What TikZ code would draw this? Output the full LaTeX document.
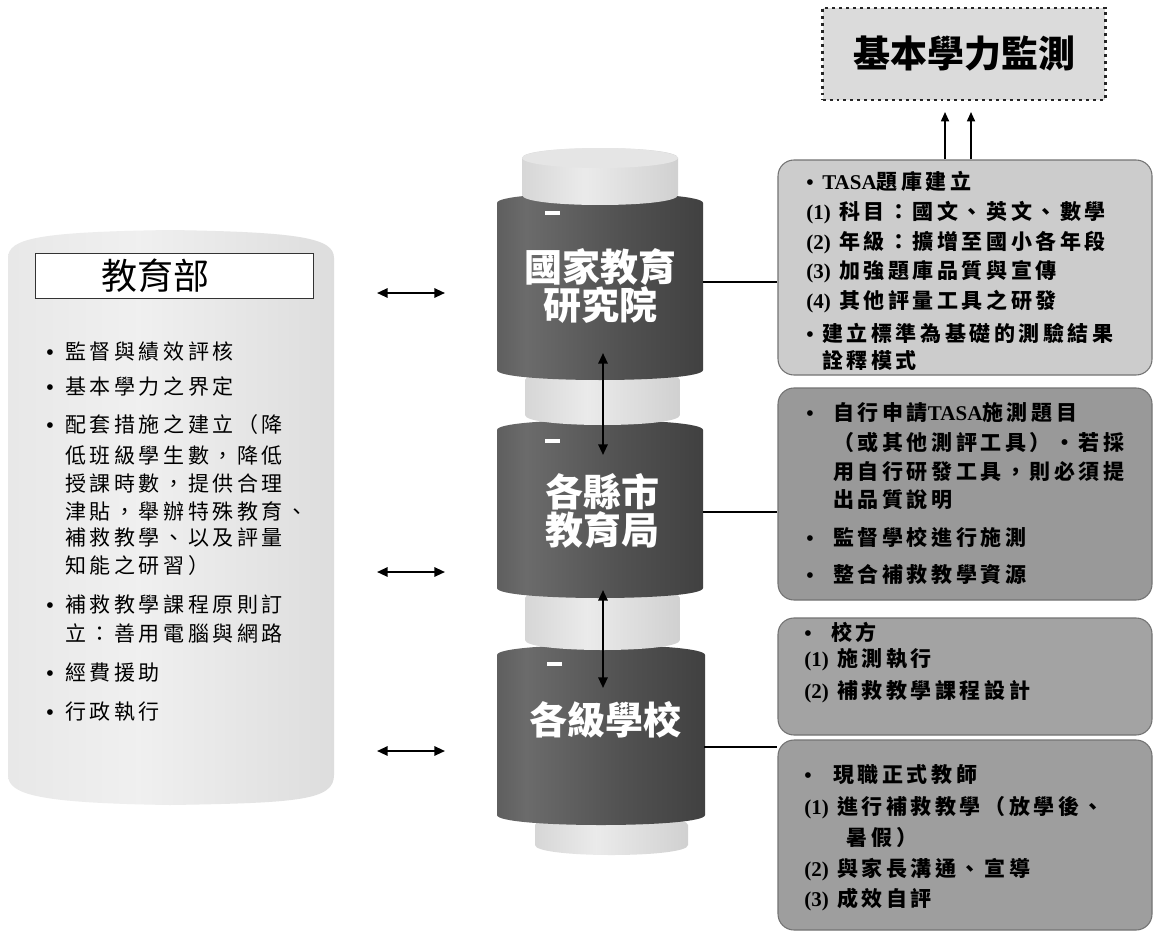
\documentclass[tikz,border=0pt]{standalone}
\usepackage{fontspec}
\setmainfont{Noto Sans CJK TC}
\newfontfamily\bodyf{Noto Sans CJK TC}[LetterSpace=17]
\newfontfamily\latn{Liberation Serif}
\usetikzlibrary{arrows.meta}

\pgfdeclarehorizontalshading{darkcyl}{100bp}{color(0bp)=(black!85); color(15bp)=(black!70); color(32bp)=(black!58); color(55bp)=(black!68); color(85bp)=(black!78); color(100bp)=(black!88)}
\pgfdeclarehorizontalshading{lightcyl}{100bp}{color(0bp)=(black!42); color(25bp)=(black!16); color(45bp)=(black!8); color(80bp)=(black!20); color(100bp)=(black!45)}
\pgfdeclarehorizontalshading{leftcyl}{100bp}{color(0bp)=(black!25); color(6bp)=(black!12); color(45bp)=(black!6); color(78bp)=(black!14); color(93bp)=(black!32); color(100bp)=(black!58)}

\newcommand{\mycyl}[6]{%
  \shade[shading=#6] (#1,#3) -- (#1,#4) .. controls (#1,{#4+1.333*#5}) and (#2,{#4+1.333*#5}) .. (#2,#4) -- (#2,#3) .. controls (#2,{#3-1.333*#5}) and (#1,{#3-1.333*#5}) .. (#1,#3) -- cycle;}
\newcommand{\bul}[1]{\makebox[#1][l]{{\latn\bfseries •}}}

\begin{document}
\begin{tikzpicture}[x=0.75pt,y=-0.75pt,
  bodyL/.style={anchor=west, inner sep=0, font=\bodyf\fontsize{15.75pt}{18pt}\selectfont},
  bodyR/.style={anchor=west, inner sep=0, font=\bodyf\bfseries\fontsize{15.75pt}{18pt}\selectfont},
  cyltext/.style={text=white, align=center, inner sep=0, font=\bfseries\fontsize{28.5pt}{28pt}\selectfont},
  conn/.style={line width=1.1pt},
  dbl/.style={{Triangle[length=8pt,width=7pt]}-{Triangle[length=8pt,width=7pt]}, line width=1.5pt},
  uparr/.style={-{Triangle[length=7pt,width=6pt]}, line width=1.2pt},
  rbox/.style={rounded corners=12pt, draw=black!55, line width=0.8pt, minimum width=280.5pt, inner sep=0},
  body/.style={inner sep=0, minimum width=154.5pt}
]
\fill[white] (0,0) rectangle (1155,931);
\useasboundingbox (0,0) rectangle (1155,931);

% ---------- left cylinder (教育部) ----------
\shade[shading=leftcyl] (8,258) .. controls (8,238) and (40,232) .. (170,230) .. controls (300,232) and (334,238) .. (334,258) -- (334,775) .. controls (334,800) and (300,803) .. (170,805) .. controls (40,803) and (8,795) .. (8,775) -- cycle;
\node[draw=black!80, line width=0.6pt, fill=white, minimum width=208.5pt, minimum height=33.75pt, inner sep=0] (moe) at (174,275.5) {};
\node[inner sep=0, font=\fontsize{27pt}{30pt}\selectfont] (moet) at (155,276) {教育部};

\foreach \yy/\txt [count=\i] in {
  352/{\bul{14.25pt}監督與績效評核},
  387/{\bul{14.25pt}基本學力之界定},
  425/{\bul{14.25pt}配套措施之建立（降},
  455/{\hspace*{14.25pt}低班級學生數，降低},
  483/{\hspace*{14.25pt}授課時數，提供合理},
  511/{\hspace*{14.25pt}津貼，舉辦特殊教育、},
  538/{\hspace*{14.25pt}補救教學、以及評量},
  566/{\hspace*{14.25pt}知能之研習）},
  605/{\bul{14.25pt}補救教學課程原則訂},
  633/{\hspace*{14.25pt}立：善用電腦與網路},
  673/{\bul{14.25pt}經費援助},
  712/{\bul{14.25pt}行政執行}}
  {\node[bodyL] (L\i) at (46,\yy) {\txt};}

% ---------- central cylinder stack ----------
\mycyl{535}{688}{825}{845}{10}{lightcyl}
\mycyl{497}{705}{655}{815}{10}{darkcyl}
\mycyl{525}{680}{598}{640}{10}{lightcyl}
\mycyl{497}{703}{430}{588}{10}{darkcyl}
\mycyl{525}{680}{380}{415}{10}{lightcyl}
\mycyl{497}{703}{203}{370}{10}{darkcyl}
\mycyl{522}{678}{158}{195}{10}{lightcyl}
\fill[black!10] (600,158) ellipse [x radius=78, y radius=10];
\draw[white, line width=2.5pt] (545,213) -- (560,213);
\draw[white, line width=2.5pt] (545,441) -- (560,441);
\draw[white, line width=2.5pt] (547,664) -- (562,664);

\node[body, minimum height=135pt] (c1) at (600,282) {};
\node[body, minimum height=120pt] (c2) at (600,512) {};
\node[body, minimum height=120pt] (c3) at (601,747) {};

\node[cyltext] (n1) at (600,286) {國家教育\\研究院};
\node[cyltext] (n2) at (602,511) {各縣市\\教育局};
\node[cyltext] (n3) at (605,720) {各級學校};

% vertical double arrows
\coordinate (v1a) at (603,353); \coordinate (v1b) at (603,455);
\coordinate (v2a) at (603,590); \coordinate (v2b) at (603,688);
\draw[dbl] (v1a) -- (v1b);
\draw[dbl] (v2a) -- (v2b);

% left horizontal double arrows
\coordinate (h1a) at (377,293); \coordinate (h1b) at (445,293);
\coordinate (h2a) at (377,572); \coordinate (h2b) at (445,572);
\coordinate (h3a) at (377,751); \coordinate (h3b) at (445,751);
\draw[dbl] (h1a) -- (h1b);
\draw[dbl] (h2a) -- (h2b);
\draw[dbl] (h3a) -- (h3b);

% ---------- right boxes ----------
\node[rbox, fill=black!20, minimum height=161.25pt] (b1) at (965,267.5) {};
\node[rbox, fill=black!40, minimum height=159pt] (b2) at (965,494) {};
\node[rbox, fill=black!36, minimum height=87.75pt] (b3) at (965,676.5) {};
\node[rbox, fill=black!38, minimum height=142.5pt] (b4) at (965,835) {};

\draw[conn] (c1.east) -- (c1.east -| b1.west);
\draw[conn] (c2.east) -- (c2.east -| b2.west);
\draw[conn] (c3.east) -- (c3.east -| b4.west);

\foreach \yy/\txt [count=\i] in {
  181/{\bul{12pt}{\latn TASA}題庫建立},
  213/{{\latn (1)} 科目：國文、英文、數學},
  243/{{\latn (2)} 年級：擴增至國小各年段},
  272/{{\latn (3)} 加強題庫品質與宣傳},
  302/{{\latn (4)} 其他評量工具之研發},
  333/{\bul{12pt}建立標準為基礎的測驗結果},
  360/{\hspace*{12pt}詮釋模式}}
  {\node[bodyR] (A\i) at (806,\yy) {\txt};}

\foreach \yy/\txt [count=\i] in {
  413/{\bul{20.25pt}自行申請{\latn TASA}施測題目},
  443/{\hspace*{20.25pt}（或其他測評工具）・若採},
  472/{\hspace*{20.25pt}用自行研發工具，則必須提},
  500/{\hspace*{20.25pt}出品質說明},
  537/{\bul{20.25pt}監督學校進行施測},
  574/{\bul{20.25pt}整合補救教學資源}}
  {\node[bodyR] (B\i) at (806,\yy) {\txt};}

\foreach \yy/\txt [count=\i] in {
  632/{\bul{20.25pt}校方},
  660/{{\latn (1)} 施測執行},
  692/{{\latn (2)} 補救教學課程設計}}
  {\node[bodyR] (C\i) at (804,\yy) {\txt};}

\foreach \yy/\txt [count=\i] in {
  775/{\bul{21.75pt}現職正式教師},
  808/{{\latn (1)} 進行補救教學（放學後、},
  838/{\hspace*{32pt}暑假）},
  870/{{\latn (2)} 與家長溝通、宣導},
  900/{{\latn (3)} 成效自評}}
  {\node[bodyR] (D\i) at (804,\yy) {\txt};}

% ---------- top box ----------
\node[draw=black!85, line width=2.2pt, dash pattern=on 2.2pt off 3pt, fill=black!14, minimum width=212pt, minimum height=69pt, inner sep=0, font=\bfseries\fontsize{27.75pt}{30pt}\selectfont] (top) at (964,54) {基本學力監測};

\coordinate (u1) at (945,112);
\coordinate (u2) at (971,112);
\draw[uparr] (b1.north -| u1) -- (u1);
\draw[uparr] (b1.north -| u2) -- (u2);
\end{tikzpicture}
\end{document}
